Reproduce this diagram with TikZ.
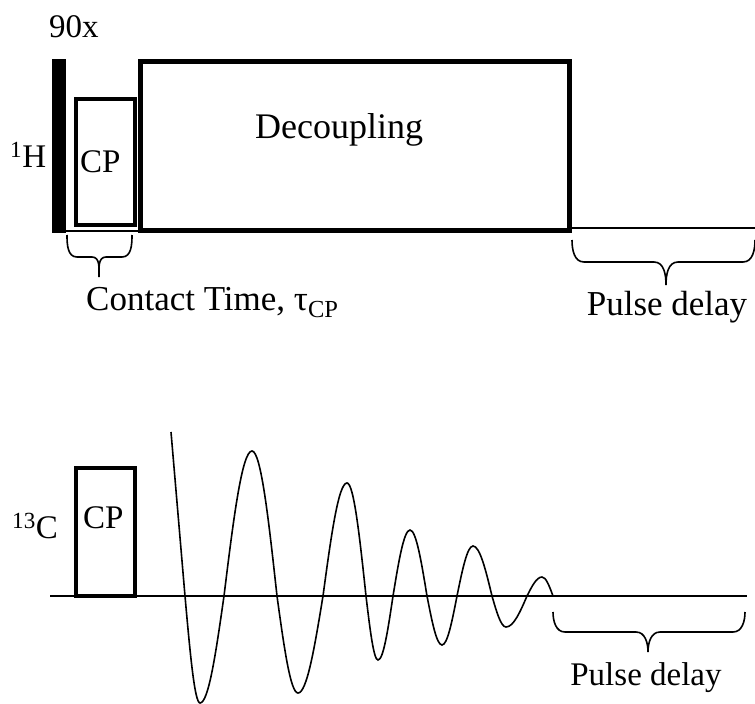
\documentclass[tikz,border=0pt]{standalone}
\usepackage{fontspec}
\setmainfont{Liberation Serif}

\begin{document}
\begin{tikzpicture}[x=1pt,y=-1pt,every node/.style={inner sep=0pt,anchor=base west,font=\fontsize{33}{40}\selectfont},big/.style={font=\fontsize{35}{42}\selectfont},box/.style={draw,line width=4pt},line/.style={line width=1.6pt}]
\useasboundingbox(0,0)rectangle(755,704);
% 1H channel
\fill(52,59)rectangle(66,233);
\draw[box](76,99)rectangle(135,225);
\draw[box,line width=5pt](140.5,61.5)rectangle(569.5,230.5);
\draw[line](66,231)--(140,231) (569,228)--(755,228);
\node at(49,37)(ninety){90x};
\node at(10,167)(hlabel){\textsuperscript{1}H};
\node at(80,172)(hcp){CP};
\node[font=\fontsize{36}{43}\selectfont] at(255,138)(dec){Decoupling};
\draw[line](67,235)to[out=-90,in=180](77,257)--(92,257)to[out=0,in=90](99,277)
           to[out=90,in=180](106,257)--(122,257)to[out=0,in=-90](132,235);
\node[big] at(86,310)(ct){Contact Time, τ\textsubscript{CP}};
\draw[line](572,240)to[out=-90,in=180](584,262)--(654,262)to[out=0,in=90](666,285)
           to[out=90,in=180](678,262)--(743,262)to[out=0,in=-90](755,240);
\node[big,anchor=base] at(667,315)(pd1){Pulse delay};
% 13C channel
\draw[box](76,468)rectangle(135,596);
\draw[line](50,596)--(747,596);
\node at(12,538)(clabel){\textsuperscript{13}C};
\node at(83,528)(ccp){CP};
\draw[line](171,432)--(185,596)sin(200,703)cos(224,596)sin(252,451)cos(277,596)
           sin(298,693)cos(323,596)sin(347,483)cos(366,596)sin(378,660)cos(393,596)
           sin(410,530)cos(427,596)sin(442,645)cos(457,596)sin(473,546)cos(492,596)
           sin(506,627)cos(527,596)sin(542,577)cos(553,596);
\draw[line](553,612)to[out=-90,in=180](565,632)--(636,632)to[out=0,in=90](648,652)
           to[out=90,in=180](660,632)--(733,632)to[out=0,in=-90](745,612);
\node[anchor=base] at(646,685)(pd2){Pulse delay};
\end{tikzpicture}
\end{document}
